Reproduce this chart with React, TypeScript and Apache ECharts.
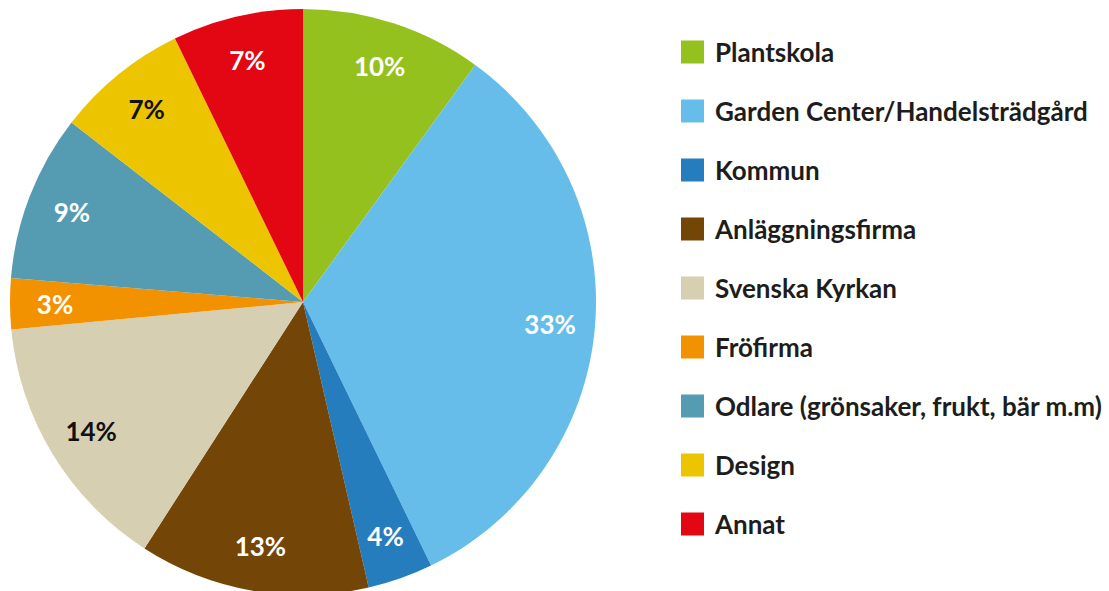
import React, { useEffect, useRef } from "react";
import * as echarts from "echarts";

const categories = [
  "Plantskola",
  "Garden Center/Handelsträdgård",
  "Kommun",
  "Anläggningsfirma",
  "Svenska Kyrkan",
  "Fröfirma",
  "Odlare (grönsaker, frukt, bär m.m)",
  "Design",
  "Annat",
];
// shares (%); labels show them rounded
const values = [10, 32.8, 3.6, 12.7, 14.4, 2.8, 9.2, 7.3, 7.2];
const colors = [
  "#95C11F",
  "#67BDEA",
  "#267DBE",
  "#734506",
  "#D6CFB1",
  "#F39200",
  "#559BB1",
  "#ECC500",
  "#E30613",
];
const labelColors = [
  "#ffffff",
  "#ffffff",
  "#ffffff",
  "#ffffff",
  "#111111",
  "#ffffff",
  "#ffffff",
  "#111111",
  "#ffffff",
];

const FONT = "Lato, 'Noto Sans', sans-serif";

export default function App() {
  const ref = useRef<HTMLDivElement>(null);
  useEffect(() => {
    if (!ref.current) return;
    const chart = echarts.init(ref.current, undefined, { renderer: "svg" });
    const mainData = categories.map((name, i) => ({
      name,
      value: values[i],
      itemStyle: { color: colors[i] },
    }));
    const labelData = categories.map((name, i) => ({
      name,
      value: values[i],
      itemStyle: { color: "transparent" },
      label: { color: labelColors[i] },
    }));
    chart.setOption({
      animation: false,
      color: colors,
      legend: {
        orient: "vertical",
        left: 681,
        top: 39,
        padding: 0,
        itemWidth: 23,
        itemHeight: 23,
        itemGap: 33,
        icon: "rect",
        selectedMode: false,
        data: categories,
        textStyle: {
          fontFamily: FONT,
          fontWeight: "bold",
          fontSize: 26,
          color: "#1d1d1b",
          lineHeight: 23,
          padding: [0, 0, 0, 6],
        },
      },
      series: [
        {
          type: "pie",
          center: [303, 302],
          radius: [0, 293],
          startAngle: 90,
          clockwise: true,
          silent: true,
          label: { show: false },
          labelLine: { show: false },
          data: mainData,
        },
        {
          type: "pie",
          center: [303, 302],
          radius: [197, 293],
          startAngle: 90,
          clockwise: true,
          silent: true,
          legendHoverLink: false,
          label: {
            show: true,
            position: "inside",
            formatter: (p: any) => Math.round(p.value) + "%",
            fontFamily: FONT,
            fontWeight: "bold",
            fontSize: 26,
          },
          labelLine: { show: false },
          data: labelData,
        },
      ],
    });
    return () => chart.dispose();
  }, []);
  return (
    <div
      ref={ref}
      style={{ position: "fixed", left: 0, top: 0, width: 1109, height: 591, background: "#fff" }}
    />
  );
}
